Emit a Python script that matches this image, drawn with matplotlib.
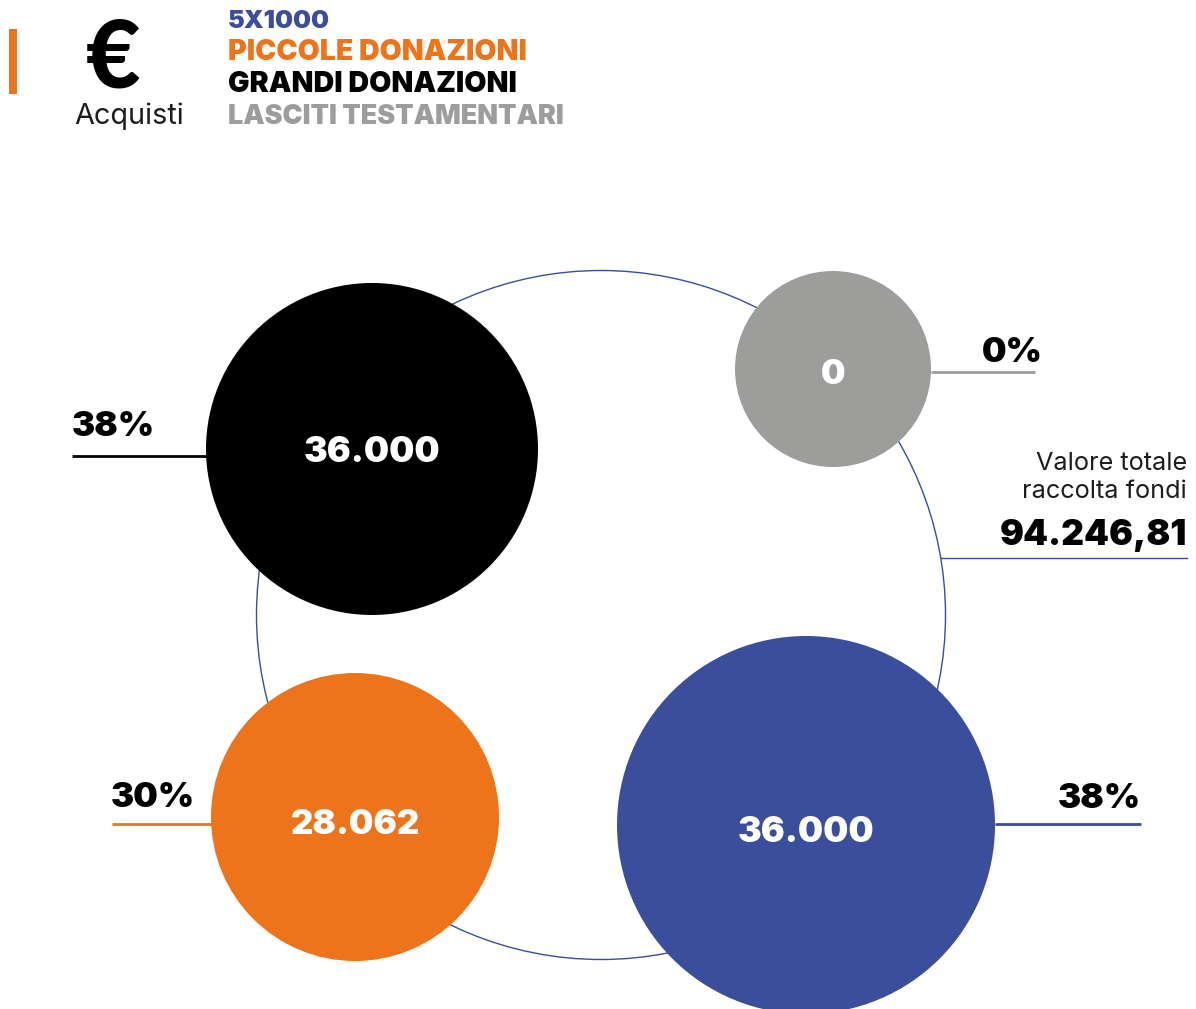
import matplotlib
matplotlib.use("Agg")
import matplotlib.pyplot as plt
from matplotlib.patches import Circle, Rectangle

categories = ["5X1000", "PICCOLE DONAZIONI", "GRANDI DONAZIONI", "LASCITI TESTAMENTARI"]
values = ["36.000", "28.062", "36.000", "0"]
percents = ["38%", "30%", "38%", "0%"]
total = "94.246,81"
colors = ["#3a4e9c", "#ee741b", "#000000", "#9d9d9c"]

# layout in pixels of the 1196x1009 picture
centers = [(806, 825), (355, 817), (372, 449), (833, 369)]
radii = [189, 144, 166, 98]
value_sizes = [25.5, 25, 25.5, 25]
value_y = [833, 825, 453, 375]
# leader: x0, x1, y, percent x, percent y, percent anchor
leaders = [
    (995, 1141, 824, 1141, 799, "right"),
    (112, 213, 824, 111, 798, "left"),
    (72, 207, 456, 72, 427, "left"),
    (931, 1035, 372, 1043, 353, "right"),
]
legend_y = [22, 53, 85, 117]
legend_sizes = [18.2, 20.5, 20.6, 19.4]

plt.rcParams["font.family"] = ["Inter", "Noto Sans", "DejaVu Sans"]

fig = plt.figure(figsize=(11.96, 10.09), dpi=100)
ax = fig.add_axes([0, 0, 1, 1])
ax.set_xlim(0, 1196)
ax.set_ylim(1009, 0)
ax.axis("off")

# big ring behind the bubbles
ax.add_patch(Circle((601, 615), 344.5, fill=False, ec="#3a4e9c", lw=1.0, zorder=1))
ax.plot([941, 1187], [558, 558], color="#3a4e9c", lw=1.0, zorder=1)

for c, r, col, val, size, y in zip(centers, radii, colors, values, value_sizes, value_y):
    ax.add_patch(Circle(c, r, fc=col, ec="none", zorder=2))
    ax.text(c[0], y, val, color="white", fontsize=size, fontweight="black",
            ha="center", va="center", zorder=3)

for (x0, x1, y, tx, ty, anchor), col, pct in zip(leaders, colors, percents):
    ax.plot([x0, x1], [y, y], color=col, lw=2.0, solid_capstyle="butt", zorder=1)
    ax.text(tx, ty, pct, color="black", fontsize=25, fontweight="black",
            ha=anchor, va="center")

# header
ax.add_patch(Rectangle((9, 29), 8, 65, fc="#ee741b", ec="none"))
ax.text(113, 60, "€", color="black", fontsize=68, fontweight="black",
        family="Lato", ha="center", va="center")
ax.text(129, 116, "Acquisti", color="#1d1d1b", fontsize=20.8, fontweight="normal", ha="center", va="center")
for name, col, y, size in zip(categories, colors, legend_y, legend_sizes):
    ax.text(228, y, name, color=col, fontsize=size, fontweight="black", ha="left", va="center")

# total
ax.text(1187, 464, "Valore totale", color="#1d1d1b", fontsize=18.2, fontweight="normal", ha="right", va="center")
ax.text(1187, 492, "raccolta fondi", color="#1d1d1b", fontsize=18.2, fontweight="normal", ha="right", va="center")
ax.text(1187, 536, total, color="black", fontsize=25.5, fontweight="black", ha="right", va="center")

fig.savefig("out.png", dpi=100)
